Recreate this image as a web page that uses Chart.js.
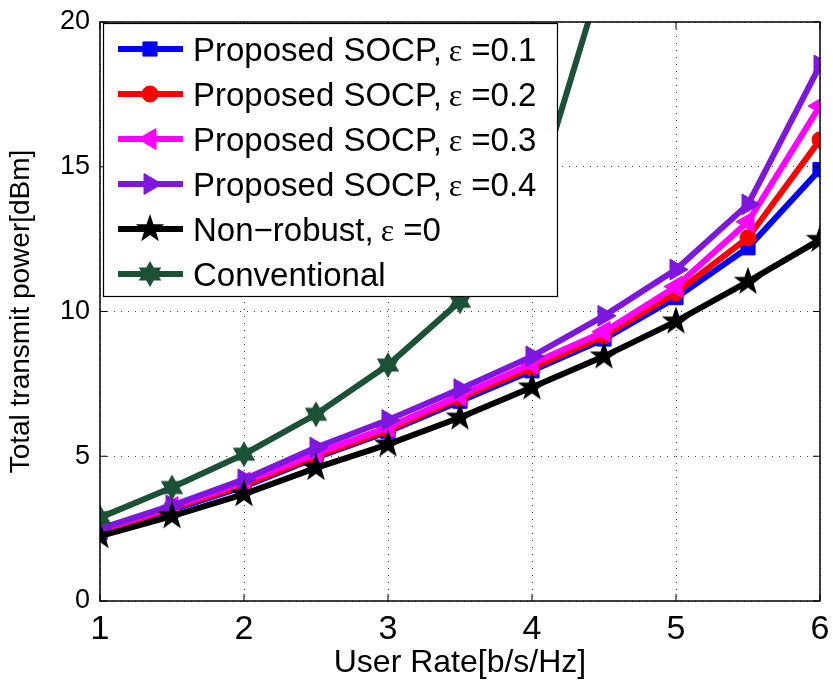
<!DOCTYPE html>
<html>
<head>
<meta charset="utf-8">
<script src="https://cdn.jsdelivr.net/npm/chart.js@4.4.1/dist/chart.umd.min.js"></script>
<style>
  html, body { margin: 0; padding: 0; background: #fff; }
  #wrap { width: 833px; height: 686px; }
</style>
</head>
<body>
<div id="wrap"><canvas id="c"></canvas></div>
<script>
// data
const rates = [1, 1.5, 2, 2.5, 3, 3.5, 4, 4.5, 5, 5.5, 6];
const socp01 = [2.35, 3.15, 3.95, 4.95, 5.85, 6.9, 7.95, 9.05, 10.48, 12.2, 14.9];
const socp02 = [2.4, 3.2, 4.0, 5.0, 5.9, 7.0, 8.05, 9.15, 10.65, 12.55, 15.93];
const socp03 = [2.45, 3.25, 4.1, 5.1, 6.0, 7.1, 8.2, 9.3, 10.86, 13.1, 17.1];
const socp04 = [2.5, 3.3, 4.2, 5.3, 6.25, 7.32, 8.45, 9.85, 11.45, 13.7, 18.5];
const nonRobust = [2.24, 2.93, 3.69, 4.6, 5.41, 6.34, 7.38, 8.45, 9.66, 11.03, 12.48];
const conventional = [2.88, 3.92, 5.07, 6.45, 8.15, 10.35, 13.6, 21.8, 32, 45, 60];
const yTicks = [0, 5, 10, 15, 20];
const xTicks = [1, 2, 3, 4, 5, 6];

const legendLabels = [
    ['Proposed SOCP,', '0.1'],
    ['Proposed SOCP,', '0.2'],
    ['Proposed SOCP,', '0.3'],
    ['Proposed SOCP,', '0.4'],
    ['Non\u2212robust,', '0'],
    ['Conventional', null]
];

const SANS = "'Liberation Sans', Arial, sans-serif";
const SERIF = "'Liberation Serif', 'DejaVu Serif', serif";

// filled star markers (MATLAB pentagram / hexagram)
function starImage(points, outer, inner, color) {
    const s = Math.ceil(outer * 2 + 2);
    const cv = document.createElement('canvas');
    cv.width = s; cv.height = s;
    const g = cv.getContext('2d');
    g.translate(s / 2, s / 2);
    g.beginPath();
    for (let i = 0; i < points * 2; i++) {
        const r = i % 2 === 0 ? outer : inner;
        const a = -Math.PI / 2 + i * Math.PI / points;
        g.lineTo(r * Math.cos(a), r * Math.sin(a));
    }
    g.closePath();
    g.fillStyle = color;
    g.fill();
    return cv;
}
const pentagram = starImage(5, 15, 6, '#000000');
const hexagram = starImage(6, 13, 7.5, '#1b5136');

const toXY = arr => arr.map((v, i) => ({ x: rates[i], y: v }));

const datasets = [
    { data: toXY(socp01), borderColor: '#0000ff', backgroundColor: '#0000ff', pointStyle: 'rect', pointRadius: 10, order: 6 },
    { data: toXY(socp02), borderColor: '#ff0000', backgroundColor: '#ff0000', pointStyle: 'circle', pointRadius: 8, order: 5 },
    { data: toXY(socp03), borderColor: '#ff00ff', backgroundColor: '#ff00ff', pointStyle: 'triangle', pointRotation: -90, pointRadius: 12, order: 4 },
    { data: toXY(socp04), borderColor: '#7f16e0', backgroundColor: '#7f16e0', pointStyle: 'triangle', pointRotation: 90, pointRadius: 12, order: 3 },
    { data: toXY(nonRobust), borderColor: '#000000', backgroundColor: '#000000', pointStyle: pentagram, order: 2 },
    { data: toXY(conventional), borderColor: '#1b5136', backgroundColor: '#1b5136', pointStyle: hexagram, order: 1 }
];
datasets.forEach(d => { d.borderWidth = 6; d.pointBorderWidth = 1; d.tension = 0; d.fill = false; });

// box around the plot plus inward ticks
const axesBox = {
    id: 'axesBox',
    afterDraw(chart) {
        const { ctx, chartArea: a, scales: { x, y } } = chart;
        ctx.save();
        ctx.strokeStyle = '#000';
        ctx.lineWidth = 1.5;
        ctx.strokeRect(a.left, a.top, a.right - a.left, a.bottom - a.top);
        ctx.lineWidth = 1;
        ctx.beginPath();
        xTicks.forEach(t => {
            const px = x.getPixelForValue(t);
            ctx.moveTo(px, a.bottom); ctx.lineTo(px, a.bottom - 7);
            ctx.moveTo(px, a.top); ctx.lineTo(px, a.top + 7);
        });
        yTicks.forEach(t => {
            const py = y.getPixelForValue(t);
            ctx.moveTo(a.left, py); ctx.lineTo(a.left + 7, py);
            ctx.moveTo(a.right, py); ctx.lineTo(a.right - 7, py);
        });
        ctx.stroke();
        ctx.restore();
    }
};

// legend box in the upper-left corner of the axes
const innerLegend = {
    id: 'innerLegend',
    afterDraw(chart) {
        const { ctx, chartArea: a } = chart;
        const bx = a.left + 3, by = a.top + 1, bw = 454, bh = 273;
        ctx.save();
        ctx.fillStyle = '#fff';
        ctx.fillRect(bx, by, bw, bh);
        ctx.strokeStyle = '#000';
        ctx.lineWidth = 1.2;
        ctx.strokeRect(bx + 0.5, by + 0.5, bw, bh);
        ctx.textBaseline = 'alphabetic';
        legendLabels.forEach((lab, i) => {
            const ds = chart.data.datasets[i];
            const cy = by + 26 + i * 45;
            ctx.strokeStyle = ds.borderColor;
            ctx.lineWidth = 6;
            ctx.beginPath();
            ctx.moveTo(bx + 15, cy); ctx.lineTo(bx + 80, cy);
            ctx.stroke();
            ctx.fillStyle = ds.backgroundColor;
            ctx.lineWidth = 1;
            Chart.helpers.drawPoint(ctx, {
                pointStyle: ds.pointStyle,
                rotation: ds.pointRotation || 0,
                radius: ds.pointRadius || 10,
                borderWidth: 1
            }, bx + 47, cy);
            const base = cy + 12;
            ctx.fillStyle = '#000';
            ctx.font = '33px ' + SANS;
            let tx = bx + 90;
            ctx.fillText(lab[0], tx, base);
            tx += ctx.measureText(lab[0]).width + 7;
            if (lab[1] !== null) {
                ctx.font = '32px ' + SERIF;
                ctx.fillText('\u03b5', tx, base);
                tx += ctx.measureText('\u03b5').width + 9;
                ctx.font = '33px ' + SANS;
                ctx.fillText('=' + lab[1], tx, base);
            }
        });
        ctx.restore();
    }
};

new Chart(document.getElementById('c'), {
    type: 'line',
    data: { datasets },
    options: {
        responsive: true,
        maintainAspectRatio: false,
        animation: false,
        layout: { padding: { top: 22, right: 10, left: 0, bottom: 0 } },
        plugins: { legend: { display: false }, tooltip: { enabled: false } },
        scales: {
            x: {
                type: 'linear', min: 1, max: 6,
                afterFit(s) { s.height = 85; s.paddingRight = 0; s.paddingLeft = 0; },
                afterBuildTicks(s) { s.ticks = xTicks.map(v => ({ value: v })); },
                grid: { color: '#444', lineWidth: 1, drawTicks: false },
                border: { display: false, dash: [1, 6] },
                ticks: { color: '#000', font: { family: SANS, size: 34 }, padding: 8, maxRotation: 0 },
                title: { display: true, text: 'User Rate[b/s/Hz]', color: '#000', font: { family: SANS, size: 32 }, padding: { top: -4 } }
            },
            y: {
                min: 0, max: 20,
                afterFit(s) { s.width = 100; s.paddingTop = 0; s.paddingBottom = 0; },
                afterBuildTicks(s) { s.ticks = yTicks.map(v => ({ value: v })); },
                grid: { color: '#444', lineWidth: 1, drawTicks: false },
                border: { display: false, dash: [1, 6] },
                ticks: { color: '#000', font: { family: SANS, size: 27 }, padding: 10 },
                title: { display: true, text: 'Total transmit power[dBm]', color: '#000', font: { family: SANS, size: 28 }, padding: { bottom: 0 } }
            }
        }
    },
    plugins: [axesBox, innerLegend]
});
</script>
</body>
</html>
